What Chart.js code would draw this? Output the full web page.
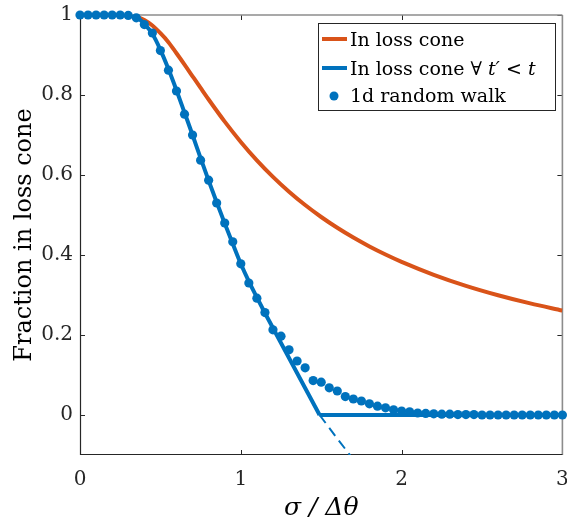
<!DOCTYPE html>
<html><head><meta charset="utf-8">
<script src="https://cdn.jsdelivr.net/npm/chart.js@4/dist/chart.umd.min.js"></script>
<style>html,body{margin:0;padding:0;background:#fff;}#wrap{width:567px;height:529px;}</style>
</head><body><div id="wrap"><canvas id="c" width="567" height="529"></canvas></div>
<script>
// ---- data ----
const xTicks = [0, 1, 2, 3];
const yTicks = [0, 0.2, 0.4, 0.6, 0.8, 1];

// "In loss cone"
const coneX = [0,0.1,0.2,0.25,0.3,0.35,0.4,0.45,0.5,0.55,0.6,0.65,0.7,0.75,0.8,0.9,1.0,1.1,1.2,1.3,1.4,1.5,1.6,1.7,1.8,1.9,2.0,2.2,2.4,2.6,2.8,3.0];
const coneY = [1,1,1,0.9999,0.9991,0.9958,0.9876,0.9737,0.9545,0.9321,0.9044,0.8761,0.8468,0.8176,0.7887,0.7334,0.6827,0.6366,0.5953,0.5582,0.5249,0.4950,0.4680,0.4436,0.4214,0.4013,0.3829,0.3506,0.3230,0.2995,0.2790,0.2611];

// "In loss cone for all t' < t" (solid part)
const allX = [0,0.05,0.1,0.15,0.2,0.25,0.3,0.35,0.4,0.45,0.5,0.55,0.6,0.65,0.7,0.75,0.8,0.85,0.9,0.95,1.0,1.05,1.1,1.15,1.2,1.25,1.3,1.35,1.4,1.45,1.49];
const allY = [1,1,1,1,1,1,1,0.995,0.978,0.953,0.913,0.865,0.812,0.756,0.700,0.642,0.586,0.532,0.479,0.428,0.378,0.334,0.294,0.255,0.2175,0.18,0.1425,0.105,0.0675,0.030,0];
// dashed continuation below zero
const extX = [1.49,1.55,1.6,1.65,1.7];
const extY = [0,-0.032,-0.059,-0.085,-0.111];
// flat part at zero
const floorX = [1.49, 3];
const floorY = [0, 0];

// "1d random walk"
const walkX = [0,0.05,0.1,0.15,0.2,0.25,0.3,0.35,0.4,0.45,0.5,0.55,0.6,0.65,0.7,0.75,0.8,0.85,0.9,0.95,1.0,1.05,1.1,1.15,1.2,1.25,1.3,1.35,1.4,1.45,1.5,1.55,1.6,1.65,1.7,1.75,1.8,1.85,1.9,1.95,2.0,2.05,2.1,2.15,2.2,2.25,2.3,2.35,2.4,2.45,2.5,2.55,2.6,2.65,2.7,2.75,2.8,2.85,2.9,2.95,3.0];
const walkY = [1,1,1,1,1,1,0.999,0.993,0.976,0.955,0.911,0.862,0.81,0.752,0.70,0.637,0.587,0.53,0.48,0.433,0.378,0.33,0.292,0.256,0.213,0.197,0.163,0.135,0.118,0.086,0.082,0.068,0.06,0.046,0.04,0.035,0.028,0.022,0.018,0.013,0.01,0.008,0.005,0.004,0.003,0.002,0.002,0.001,0.001,0.001,0,0,0,0,0,0,0,0,0,0,0];

const seriesNames = ['In loss cone', 'In loss cone ∀ t′ < t', '1d random walk'];

const ORANGE = '#D95319', BLUE = '#0072BD';
const SERIF = '"DejaVu Serif", serif';
const pts = (xs, ys) => xs.map((x, i) => ({x: x, y: ys[i]}));

const axesBox = {
  id: 'axesBox',
  beforeDatasetsDraw(chart) {
    const {ctx, chartArea: a, scales: {x, y}} = chart;
    ctx.save();
    ctx.lineWidth = 1;
    ctx.strokeStyle = '#262626';
    const ln = (x1, y1, x2, y2) => { ctx.beginPath(); ctx.moveTo(x1, y1); ctx.lineTo(x2, y2); ctx.stroke(); };
    xTicks.forEach(v => { const px = Math.round(x.getPixelForValue(v)) + 0.5; ln(px, a.bottom, px, a.bottom - 5); ln(px, a.top, px, a.top + 5); });
    yTicks.forEach(v => { const py = Math.round(y.getPixelForValue(v)) + 0.5; ln(a.left, py, a.left + 5, py); ln(a.right, py, a.right - 5, py); });
    ctx.strokeStyle = '#8c8c8c'; ctx.lineWidth = 1.6;
    ln(a.left, a.top, a.right, a.top);
    ln(a.right, a.top, a.right, a.bottom);
    ctx.strokeStyle = '#262626'; ctx.lineWidth = 1.2;
    ln(a.left + 0.5, a.top, a.left + 0.5, a.bottom);
    ln(a.left, a.bottom - 0.5, a.right, a.bottom - 0.5);
    ctx.restore();
  }
};

const boxLegend = {
  id: 'boxLegend',
  afterDraw(chart) {
    const ctx = chart.ctx;
    ctx.save();
    ctx.fillStyle = '#fff';
    ctx.fillRect(318, 23, 238, 88);
    ctx.strokeStyle = '#262626'; ctx.lineWidth = 1;
    ctx.strokeRect(318.5, 23.5, 237, 87);
    // samples
    ctx.lineWidth = 4;
    ctx.strokeStyle = ORANGE;
    ctx.beginPath(); ctx.moveTo(322, 39); ctx.lineTo(347, 39); ctx.stroke();
    ctx.strokeStyle = BLUE;
    ctx.beginPath(); ctx.moveTo(322, 68); ctx.lineTo(347, 68); ctx.stroke();
    ctx.fillStyle = BLUE;
    ctx.beginPath(); ctx.arc(334, 96, 4.5, 0, Math.PI * 2); ctx.fill();
    // texts
    ctx.fillStyle = '#000';
    ctx.textBaseline = 'alphabetic';
    ctx.textAlign = 'left';
    const up = '19px ' + SERIF, it = 'italic 19px ' + SERIF;
    ctx.font = up;
    ctx.fillText(seriesNames[0], 350, 45.5);
    // second label, with math symbols in italic
    const parts = [['In loss cone ∀ ', up], ['t′', it], [' < ', up], ['t', it]];
    let cx = 350;
    parts.forEach(([s, f]) => { ctx.font = f; ctx.fillText(s, cx, 74.5); cx += ctx.measureText(s).width; });
    ctx.font = up;
    ctx.fillText(seriesNames[2], 350, 102);
    ctx.restore();
  }
};

new Chart(document.getElementById('c'), {
  type: 'line',
  data: {
    datasets: [
      { label: seriesNames[2], data: pts(walkX, walkY), showLine: false, pointRadius: 4.6, pointHoverRadius: 4.6,
        pointBackgroundColor: BLUE, pointBorderWidth: 0, borderColor: BLUE, backgroundColor: BLUE, order: 0, clip: false },
      { label: seriesNames[1], data: pts(allX, allY), borderColor: BLUE, borderWidth: 4, pointRadius: 0,
        cubicInterpolationMode: 'monotone', fill: false, order: 1 },
      { label: seriesNames[1] + ' (extrapolated)', data: pts(extX, extY), borderColor: BLUE, borderWidth: 2, borderDash: [10, 6],
        pointRadius: 0, fill: false, order: 1 },
      { label: seriesNames[1] + ' (zero)', data: pts(floorX, floorY), borderColor: BLUE, borderWidth: 4, pointRadius: 0, fill: false, order: 1 },
      { label: seriesNames[0], data: pts(coneX, coneY), borderColor: ORANGE, borderWidth: 4, pointRadius: 0,
        cubicInterpolationMode: 'monotone', fill: false, order: 2 }
    ]
  },
  options: {
    responsive: false, animation: false, devicePixelRatio: 1,
    layout: { padding: { top: 15, right: 4, left: 0, bottom: 0 } },
    plugins: { legend: { display: false }, tooltip: { enabled: false } },
    scales: {
      x: {
        type: 'linear', min: 0, max: 3,
        afterBuildTicks: s => { s.ticks = xTicks.map(v => ({value: v})); },
        afterFit: s => { s.height = 74; s.paddingLeft = 0; s.paddingRight = 0; },
        grid: { display: false, drawTicks: false }, border: { display: false },
        ticks: { font: { family: SERIF, size: 20 }, color: '#262626', padding: 13, maxRotation: 0, autoSkip: false,
                 callback: v => String(v) },
        title: { display: true, text: 'σ / Δθ', color: '#000', font: { family: SERIF, size: 25, style: 'italic' },
                 padding: { top: 0, bottom: 6 } }
      },
      y: {
        type: 'linear', min: -0.1, max: 1,
        afterBuildTicks: s => { s.ticks = yTicks.map(v => ({value: v})); },
        afterFit: s => { s.width = 80; s.paddingTop = 0; s.paddingBottom = 0; },
        grid: { display: false, drawTicks: false }, border: { display: false },
        ticks: { font: { family: SERIF, size: 20 }, color: '#262626', padding: 7, autoSkip: false,
                 callback: v => String(v) },
        title: { display: true, text: 'Fraction in loss cone', color: '#000', font: { family: SERIF, size: 24 },
                 padding: { top: 10, bottom: 0 } }
      }
    }
  },
  plugins: [axesBox, boxLegend]
});
</script></body></html>
